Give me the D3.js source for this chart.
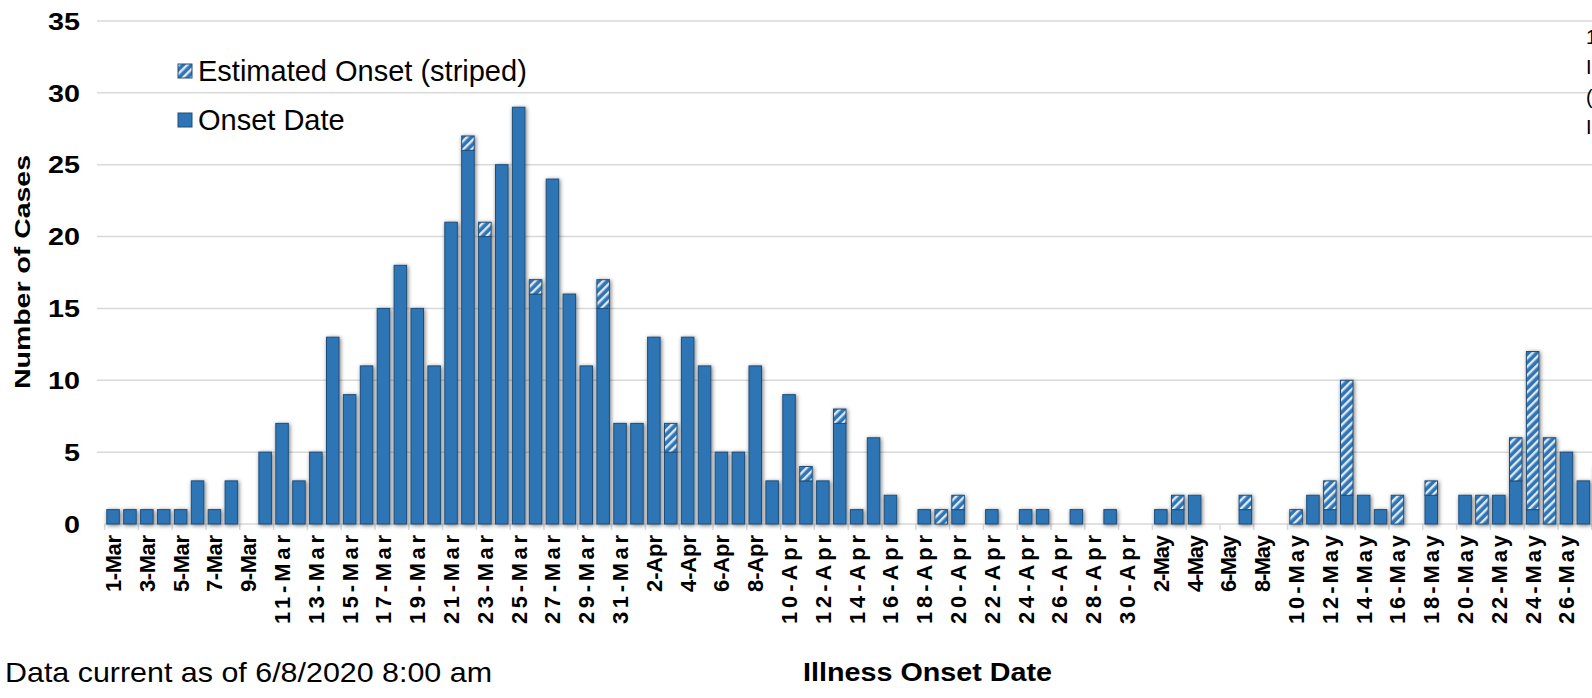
<!DOCTYPE html>
<html>
<head>
<meta charset="utf-8">
<script src="https://cdn.jsdelivr.net/npm/d3@7"></script>
<style>
  html, body { margin: 0; padding: 0; background: #fff; overflow: hidden; }
  svg { display: block; font-family: "Liberation Sans", Arial, sans-serif; }
</style>
</head>
<body>
<div id="chart"></div>
<script>
// day categories, 1-Mar .. 28-May 2020
const startDay = new Date(2020, 2, 1);
const days = d3.range(89).map(i => d3.timeDay.offset(startDay, i));

// confirmed onset date (solid), one value per day
const onsetMar = [1,1,1,1,1,3,1,3,0,5, 7,3,5,13,9,11,15,18,15,11, 21,26,20,25,29,16,24,16,11,15, 7];
const onsetApr = [7,13,5,13,11,5,5,11,3,9, 3,3,7,1,6,2,0,1,0,1, 0,1,0,1,1,0,1,0,1,0];
const onsetMay = [0,1,1,2,0,0,1,0,0,0, 2,1,2,2,1,0,0,2,0,2, 0,2,3,1,0,5,3,4];

// estimated onset (striped), stacked on top
const estMar = [0,0,0,0,0,0,0,0,0,0, 0,0,0,0,0,0,0,0,0,0, 0,1,1,0,0,1,0,0,0,2, 0];
const estApr = [0,0,2,0,0,0,0,0,0,0, 1,0,1,0,0,0,0,0,1,1, 0,0,0,0,0,0,0,0,0,0];
const estMay = [0,0,1,0,0,0,1,0,0,1, 0,2,8,0,0,2,0,1,0,0, 2,0,3,11,6,0,0,0];

const yTicks = [0, 5, 10, 15, 20, 25, 30, 35];

const onset = onsetMar.concat(onsetApr, onsetMay);
const est = estMar.concat(estApr, estMay);
const rows = days.map((d, i) => ({ day: d, onset: onset[i], est: est[i] }));

const width = 1592, height = 698;
const blue = '#2e75b6', edge = '#1f4e79', grid = '#d9d9d9';
const fmt = d3.timeFormat('%-d-%b');

const svg = d3.select('#chart').append('svg')
  .attr('width', width).attr('height', height);

const defs = svg.append('defs');
const shadow = defs.append('filter').attr('id', 'shadow')
  .attr('x', '-50%').attr('y', '-10%').attr('width', '200%').attr('height', '130%');
shadow.append('feDropShadow').attr('dx', 1).attr('dy', 1).attr('stdDeviation', 2)
  .attr('flood-color', '#000').attr('flood-opacity', 0.55);

const pat = defs.append('pattern').attr('id', 'stripes')
  .attr('patternUnits', 'userSpaceOnUse').attr('width', 6).attr('height', 6)
  .attr('patternTransform', 'rotate(45)');
pat.append('rect').attr('width', 6).attr('height', 6).attr('fill', blue);
pat.append('rect').attr('width', 2.4).attr('height', 6).attr('fill', '#dfe8f3');

// scales
const x0 = 104.6, step = 16.9;
const xs = d3.scaleBand().domain(days).range([x0, x0 + step * days.length]);
const x = d3.scaleBand().domain(days).range([x0, x0 + step * days.length])
  .paddingInner(0.26).paddingOuter(0.13);
const y = d3.scaleLinear().domain([0, 35]).range([524, 21]);

// gridlines
svg.append('g').selectAll('line').data(yTicks.slice(1)).join('line')
  .attr('x1', 97).attr('x2', width)
  .attr('y1', d => y(d)).attr('y2', d => y(d))
  .attr('stroke', grid).attr('stroke-width', 1.5);

// y axis labels
const yAxis = svg.append('g').attr('transform', 'translate(80,0)')
  .call(d3.axisLeft(y).tickValues(yTicks).tickSize(0).tickPadding(0));
yAxis.select('.domain').remove();
yAxis.selectAll('text')
  .attr('font-family', '"Liberation Sans", Arial, sans-serif')
  .attr('font-size', 23).attr('font-weight', 'bold').attr('fill', '#000')
  .attr('dy', '0.36em')
  .attr('textLength', d => String(d).length * 16)
  .attr('lengthAdjust', 'spacingAndGlyphs');

svg.append('text')
  .attr('transform', 'translate(30,272) rotate(-90)')
  .attr('text-anchor', 'middle')
  .attr('font-size', 22).attr('font-weight', 'bold')
  .attr('textLength', 234).attr('lengthAdjust', 'spacingAndGlyphs')
  .text('Number of Cases');

// x axis baseline + ticks at every second band edge
svg.append('line').attr('x1', x0).attr('x2', width)
  .attr('y1', y(0)).attr('y2', y(0)).attr('stroke', grid).attr('stroke-width', 1.5);
const evenDays = days.filter((d, i) => i % 2 === 0);
svg.append('g').selectAll('line').data(evenDays).join('line')
  .attr('x1', d => xs(d)).attr('x2', d => xs(d))
  .attr('y1', y(0)).attr('y2', y(0) + 6)
  .attr('stroke', grid).attr('stroke-width', 1.5);

svg.append('g').selectAll('text').data(evenDays).join('text')
  .attr('transform', d => `translate(${xs(d) + xs.bandwidth() / 2 + 8},535) rotate(-90)`)
  .attr('text-anchor', 'end')
  .attr('font-size', 22).attr('font-weight', 'bold')
  .attr('textLength', d => fmt(d).length > 5 ? 89 : 57)
  .attr('lengthAdjust', 'spacing')
  .text(d => fmt(d));

// bars
const bars = svg.append('g').attr('filter', 'url(#shadow)');
bars.selectAll('.solid').data(rows.filter(r => r.onset > 0)).join('rect')
  .attr('class', 'solid')
  .attr('x', d => x(d.day)).attr('width', x.bandwidth())
  .attr('y', d => y(d.onset)).attr('height', d => y(0) - y(d.onset))
  .attr('fill', blue).attr('stroke', edge).attr('stroke-width', 1);
bars.selectAll('.est').data(rows.filter(r => r.est > 0)).join('rect')
  .attr('class', 'est')
  .attr('x', d => x(d.day)).attr('width', x.bandwidth())
  .attr('y', d => y(d.onset + d.est)).attr('height', d => y(d.onset) - y(d.onset + d.est))
  .attr('fill', 'url(#stripes)').attr('stroke', edge).attr('stroke-width', 1);

// legend
const legend = [{ l: 'Estimated Onset (striped)', f: 'url(#stripes)' }, { l: 'Onset Date', f: blue }];
const lg = svg.append('g').attr('transform', 'translate(178,64)');
legend.forEach((d, i) => {
  lg.append('rect').attr('x', 0).attr('y', i * 49).attr('width', 14).attr('height', 14)
    .attr('fill', d.f).attr('stroke', edge).attr('stroke-width', 1);
  lg.append('text').attr('x', 20).attr('y', i * 49 + 17)
    .attr('font-size', 29).text(d.l);
});

// partially visible note at the right edge
const note = ['1', 'I', '(', 'I'];
svg.append('g').selectAll('text').data(note).join('text')
  .attr('x', 1586).attr('y', (d, i) => 44 + i * 30)
  .attr('font-size', 20).text(d => d);

// footer
svg.append('text').attr('x', 5).attr('y', 682)
  .attr('font-size', 28)
  .attr('textLength', 487).attr('lengthAdjust', 'spacingAndGlyphs')
  .text('Data current as of 6/8/2020 8:00 am');
svg.append('text').attr('x', 803).attr('y', 681)
  .attr('font-size', 26).attr('font-weight', 'bold')
  .attr('textLength', 249).attr('lengthAdjust', 'spacingAndGlyphs')
  .text('Illness Onset Date');
</script>
</body>
</html>
